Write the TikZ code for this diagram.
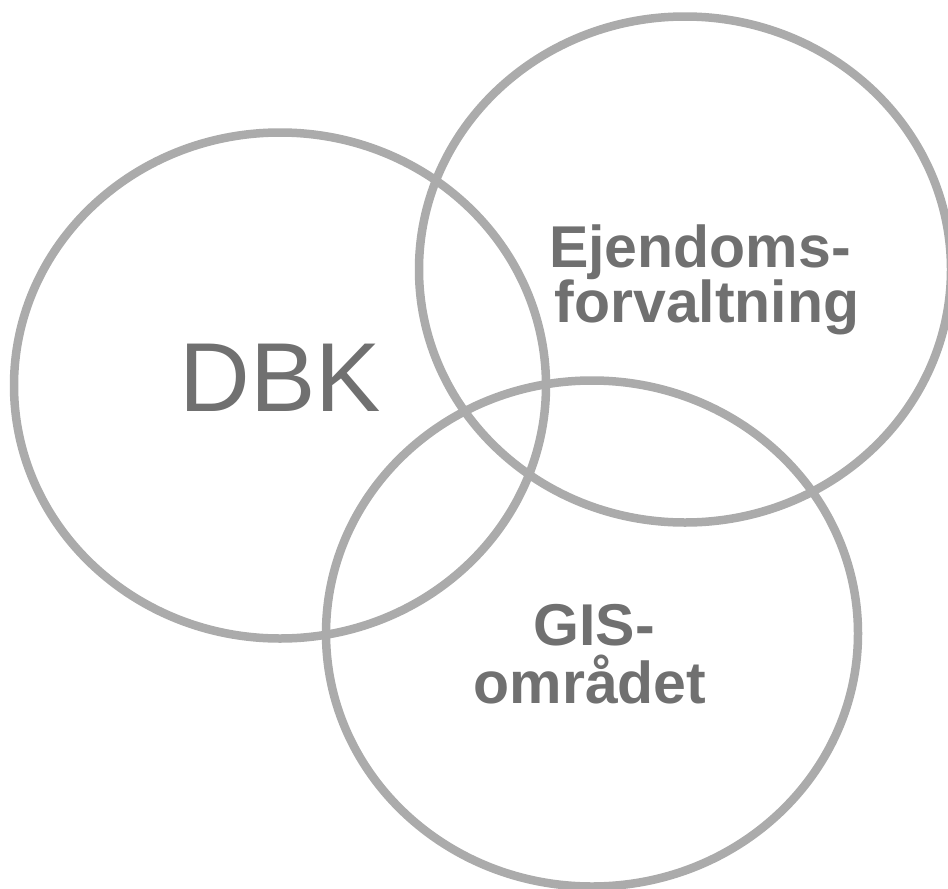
\documentclass[tikz,border=0pt]{standalone}
\usepackage{fontspec}
\setmainfont{Liberation Sans}
\definecolor{ringgray}{HTML}{ABABAB}
\definecolor{labelgray}{HTML}{707070}
\begin{document}
\begin{tikzpicture}[x=1pt,y=-1pt,
  ring/.style={draw=ringgray,line width=8.5pt},
  biglabel/.style={text=labelgray,font=\fontsize{98}{98}\selectfont,inner sep=0pt},
  boldlabel/.style={text=labelgray,font=\fontsize{59}{59}\selectfont\bfseries,inner sep=0pt,anchor=base}]
\useasboundingbox (0,0) rectangle (948,889);
\begin{scope}
\clip (0,0) rectangle (948,889);
\draw[ring] (280,385.5) ellipse [x radius=266, y radius=253];
\draw[ring] (685,269.5) ellipse [x radius=266, y radius=253];
\draw[ring] (592,633.5) ellipse [x radius=266, y radius=253];
\end{scope}
\node[biglabel] (dbk) at (280,378) {DBK};
\node[boldlabel] (ejd1) at (700,267) {Ejendoms-};
\node[boldlabel] (ejd2) at (707,322) {forvaltning};
\node[boldlabel] (gis1) at (594,645) {GIS-};
\node[boldlabel] (gis2) at (590,703) {området};
\end{tikzpicture}
\end{document}
